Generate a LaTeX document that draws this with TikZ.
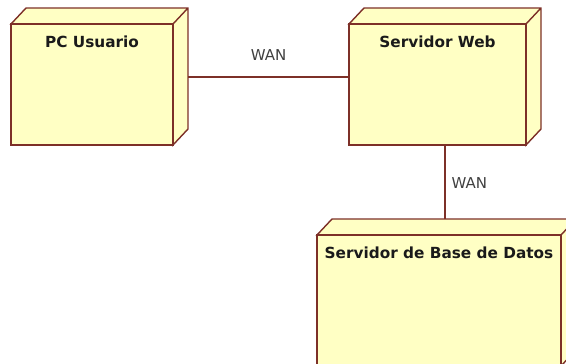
\documentclass[tikz,border=0pt]{standalone}
\usepackage{fontspec}
\setmainfont{DejaVu Sans}
\usepackage{tikz}
\usepackage{xcolor}
\usetikzlibrary{positioning}
\definecolor{borde}{RGB}{125,48,40}
\definecolor{relleno}{RGB}{255,255,196}
\definecolor{gris}{RGB}{64,64,64}
\definecolor{negro}{RGB}{26,26,26}
\tikzset{
Nodo/.style={
 draw=borde,
 fill=relleno,
 line width=1.4pt,
 inner sep=0pt,
 outer sep=0pt,
 append after command={\pgfextra{
  \draw[draw=borde, fill=relleno, line width=1.4pt]
   (\tikzlastnode.north west) -- ++(15,16)
   -- ([shift={(15,16)}]\tikzlastnode.north east)
   -- ([shift={(15,16)}]\tikzlastnode.south east)
   -- (\tikzlastnode.south east)
   -- (\tikzlastnode.north east) -- cycle
   (\tikzlastnode.north east) -- ++(15,16);
  }}
 },
Titulo/.style={
 font=\bfseries\fontsize{15.3}{18}\selectfont,
 text=negro,
 inner sep=0pt,
 text height=11pt,
 text depth=3pt
 },
Enlace/.style={
 draw=borde,
 line width=1.4pt
 },
Etiqueta/.style={
 font=\fontsize{15}{18}\selectfont,
 text=gris,
 inner sep=0pt
 }
}
\begin{document}
\begin{tikzpicture}[x=1pt,y=1pt]
\useasboundingbox (0,0) rectangle (566,-364);
\node[Nodo, minimum width=162, minimum height=121] (pc) at (92,-84.5) {};
\node[Nodo, minimum width=177, minimum height=121] (web) at (437.5,-84.5) {};
\node[Nodo, minimum width=244, minimum height=131] (bd) at (439,-300.5) {};
\node[Titulo, below=12pt of pc.north] (pc-t) {PC Usuario};
\node[Titulo, below=12pt of web.north] (web-t) {Servidor Web};
\node[Titulo, below=12pt of bd.north] (bd-t) {Servidor de Base de Datos};
\draw[Enlace] ([shift={(15,7.5)}]pc.east) -- ([yshift=7.5]web.west)
 node[Etiqueta, midway, above=16pt] (wan1) {WAN};
\draw[Enlace] ([xshift=7.5]web.south) -- ([shift={(6,16)}]bd.north)
 node[Etiqueta, pos=0.52, right=6pt] (wan2) {WAN};
\end{tikzpicture}
\end{document}
